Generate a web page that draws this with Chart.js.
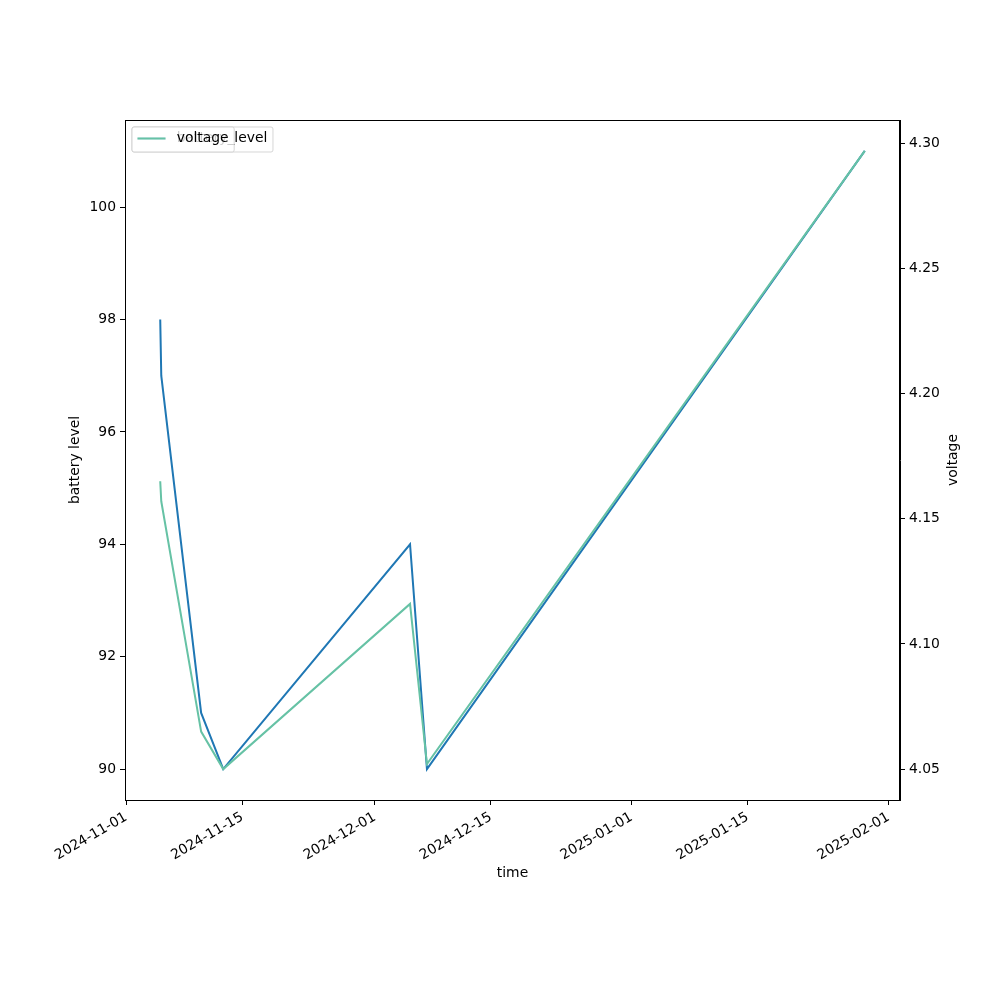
<!DOCTYPE html>
<html>
<head>
<meta charset="utf-8">
<script src="https://cdn.jsdelivr.net/npm/chart.js@4"></script>
<style>
  body { margin: 0; background: #fff; }
  #wrap { width: 1000px; height: 1000px; }
</style>
</head>
<body>
<div id="wrap"><canvas id="chart"></canvas></div>
<script>
// readings (UTC)
const times = ['2024-11-05T02:30', '2024-11-05T05:30', '2024-11-10T01:00', '2024-11-12T17:00',
               '2024-12-05T06:00', '2024-12-07T07:00', '2025-01-29T03:00'];
const batteryLevel = [98, 97, 91, 90, 94, 90, 101];
const voltage = [4.165, 4.157, 4.065, 4.050, 4.116, 4.052, 4.297];

// tick labels
const dateTicks = ['2024-11-01', '2024-11-15', '2024-12-01', '2024-12-15', '2025-01-01', '2025-01-15', '2025-02-01'];
const batteryTicks = [90, 92, 94, 96, 98, 100];
const voltageTicks = [4.05, 4.10, 4.15, 4.20, 4.25, 4.30];

const BLUE = '#1f77b4';
const GREEN = '#66c2a5';
const FONT = 'DejaVu Sans';
const FS = 13.9;

const toMs = s => Date.parse(s + 'Z');
const xs = times.map(toMs);

// matplotlib style 5% margins
function padded(vals) {
  const lo = Math.min(...vals), hi = Math.max(...vals);
  const m = (hi - lo) * 0.05;
  return [lo - m, hi + m];
}
const [xMin, xMax] = padded(xs);
const [bMin, bMax] = padded(batteryLevel);
const [vMin, vMax] = padded(voltage);

const tickStyle = { color: '#000', font: { family: FONT, size: FS }, padding: 4 };
const gridStyle = { drawOnChartArea: false, drawTicks: true, tickLength: 5, tickColor: '#000' };

// frame + overlapping legends + right axis title
const extras = {
  id: 'extras',
  afterDraw(chart) {
    const ctx = chart.ctx;
    const a = chart.chartArea;
    ctx.save();
    ctx.strokeStyle = '#000';
    ctx.lineWidth = 1;
    ctx.strokeRect(a.left + 0.5, a.top + 0.5, a.right - a.left - 1, a.bottom - a.top);

    ctx.font = FS + 'px "' + FONT + '"';
    ctx.textBaseline = 'middle';
    function legend(label, color) {
      const x0 = a.left + 7, y0 = a.top + 7;
      const w = 44.7 + ctx.measureText(label).width + 5.6;
      const h = 25;
      ctx.beginPath();
      ctx.roundRect(x0, y0, w, h, 2);
      ctx.fillStyle = 'rgba(255,255,255,0.8)';
      ctx.fill();
      ctx.strokeStyle = 'rgba(204,204,204,0.8)';
      ctx.lineWidth = 1;
      ctx.stroke();
      ctx.beginPath();
      ctx.moveTo(x0 + 5.5, y0 + 11.5);
      ctx.lineTo(x0 + 33.5, y0 + 11.5);
      ctx.strokeStyle = color;
      ctx.lineWidth = 2;
      ctx.stroke();
      ctx.fillStyle = '#000';
      ctx.textAlign = 'left';
      ctx.fillText(label, x0 + 44.7, y0 + 11.5);
    }
    legend('battery_level', BLUE);
    legend('voltage', GREEN);

    ctx.translate(953, (a.top + a.bottom) / 2);
    ctx.rotate(-Math.PI / 2);
    ctx.textAlign = 'center';
    ctx.fillStyle = '#000';
    ctx.fillText('voltage', 0, 0);
    ctx.restore();
  }
};

new Chart(document.getElementById('chart'), {
  type: 'line',
  data: {
    datasets: [
      {
        label: 'battery_level',
        data: xs.map((x, i) => ({ x: x, y: batteryLevel[i] })),
        yAxisID: 'y',
        borderColor: BLUE,
        borderWidth: 2,
        pointRadius: 0,
        tension: 0,
        order: 1
      },
      {
        label: 'voltage',
        data: xs.map((x, i) => ({ x: x, y: voltage[i] })),
        yAxisID: 'y1',
        borderColor: GREEN,
        borderWidth: 2,
        pointRadius: 0,
        tension: 0,
        order: 0
      }
    ]
  },
  options: {
    responsive: true,
    maintainAspectRatio: false,
    animation: false,
    layout: { padding: { top: 120, left: 0, right: 0, bottom: 0 } },
    plugins: { legend: { display: false }, tooltip: { enabled: false } },
    scales: {
      x: {
        type: 'linear',
        min: xMin,
        max: xMax,
        afterBuildTicks: s => { s.ticks = dateTicks.map(d => ({ value: toMs(d + 'T00:00') })); },
        afterFit: s => { s.height = 200; },
        ticks: Object.assign({}, tickStyle, {
          autoSkip: false, minRotation: 30, maxRotation: 30,
          callback: v => new Date(v).toISOString().slice(0, 10)
        }),
        grid: gridStyle,
        border: { color: '#000' },
        title: { display: true, text: 'time', color: '#000', font: { family: FONT, size: FS }, padding: { bottom: 118.7 } }
      },
      y: {
        position: 'left',
        min: bMin,
        max: bMax,
        afterBuildTicks: s => { s.ticks = batteryTicks.map(v => ({ value: v })); },
        afterFit: s => { s.width = 125; },
        ticks: Object.assign({}, tickStyle, { callback: v => String(v) }),
        grid: gridStyle,
        border: { color: '#000' },
        title: { display: true, text: 'battery level', color: '#000', font: { family: FONT, size: FS }, padding: { top: 66.7 } }
      },
      y1: {
        position: 'right',
        min: vMin,
        max: vMax,
        afterBuildTicks: s => { s.ticks = voltageTicks.map(v => ({ value: v })); },
        afterFit: s => { s.width = 100; },
        ticks: Object.assign({}, tickStyle, { callback: v => v.toFixed(2) }),
        grid: gridStyle,
        border: { color: '#000' }
      }
    }
  },
  plugins: [extras]
});
</script>
</body>
</html>
